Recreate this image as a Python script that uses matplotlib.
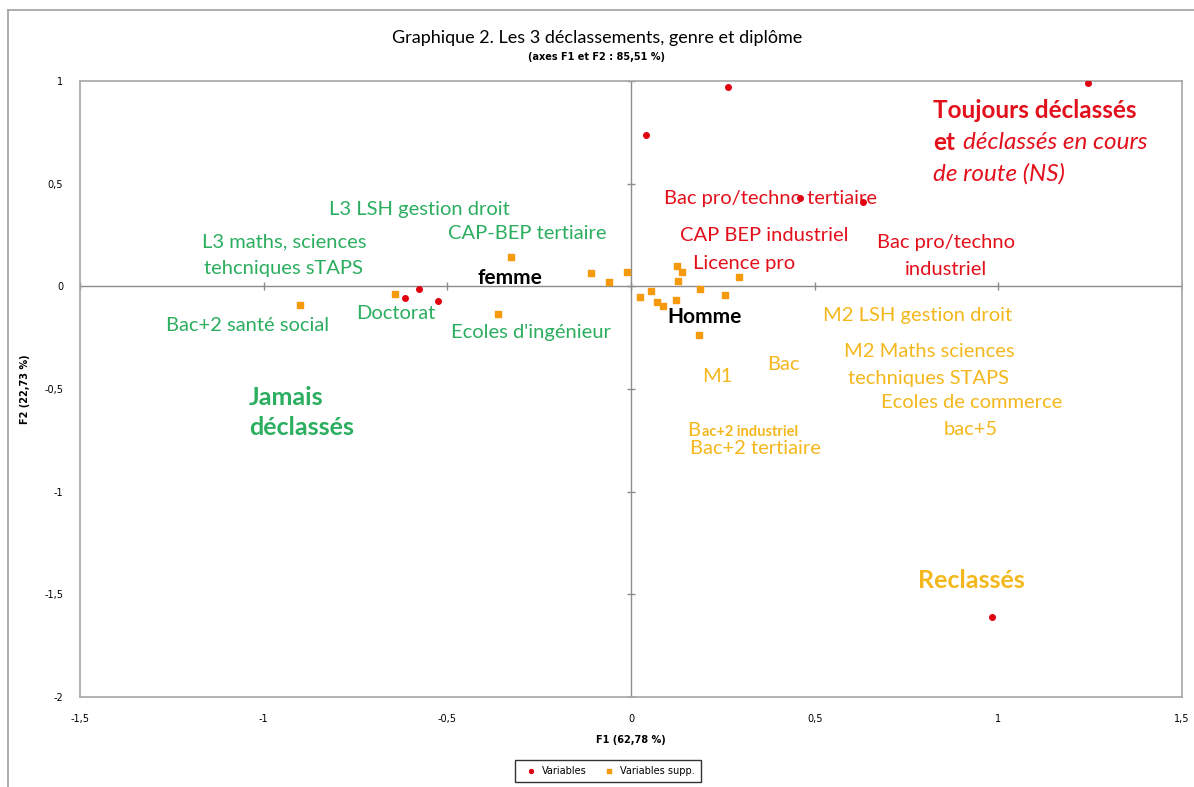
import matplotlib
matplotlib.use("Agg")
import matplotlib.pyplot as plt
from matplotlib.lines import Line2D
import numpy as np

# points of the graph (F1, F2)
var_x = [1.244, 0.263, 0.040, 0.461, 0.631, 0.983, -0.577, -0.615, -0.525]
var_y = [0.989, 0.971, 0.739, 0.430, 0.411, -1.612, -0.015, -0.058, -0.073]

supp_x = [-0.901, -0.643, -0.326, -0.361, -0.110, -0.059, -0.011, 0.024, 0.055,
          0.071, 0.088, 0.122, 0.124, 0.138, 0.127, 0.188, 0.186, 0.255, 0.293]
supp_y = [-0.089, -0.037, 0.145, -0.133, 0.067, 0.019, 0.071, -0.054, -0.024,
          -0.076, -0.096, -0.068, 0.101, 0.070, 0.028, -0.011, -0.235, -0.044, 0.045]

xticks = [-1.5, -1, -0.5, 0, 0.5, 1, 1.5]
yticks = [-2, -1.5, -1, -0.5, 0, 0.5, 1]

GREEN = "#2bae5f"
RED = "#e3101c"
ORANGE_TXT = "#f4b71c"
RED_PT = "#e00010"
ORANGE_PT = "#f59a0c"

# labels: (text, x, y)
green_labels = [
    ("L3 LSH gestion droit", -0.577, 0.375),
    ("CAP-BEP tertiaire", -0.283, 0.258),
    ("L3 maths, sciences\ntehcniques sTAPS", -0.945, 0.151),
    ("Bac+2 santé social", -1.043, -0.190),
    ("Doctorat", -0.640, -0.132),
    ("Ecoles d'ingénieur", -0.272, -0.224),
]
red_labels = [
    ("Bac pro/techno tertiaire", 0.381, 0.429),
    ("CAP BEP industriel", 0.362, 0.248),
    ("Bac pro/techno\nindustriel", 0.858, 0.146),
    ("Licence pro", 0.308, 0.112),
]
orange_labels = [
    ("M2 LSH gestion droit", 0.779, -0.141),
    ("M2 Maths sciences\ntechniques STAPS", 0.811, -0.385),
    ("Ecoles de commerce\nbac+5", 0.926, -0.633),
    ("Bac", 0.414, -0.380),
    ("M1", 0.234, -0.438),
    ("Bac+2 tertiaire", 0.340, -0.789),
]

plt.rcParams['font.family'] = ['Lato', 'DejaVu Sans']

fig = plt.figure(figsize=(11.94, 7.87), dpi=100)
ax = fig.add_axes([80/1194, 1-697/787, 1102/1194, 616/787])
ax.set_xlim(-1.5, 1.5)
ax.set_ylim(-2, 1)

for s in ax.spines.values():
    s.set_color("#a6a6a6")
    s.set_linewidth(1.2)

# zero axes with small tick marks
ax.axhline(0, color="#8c8c8c", lw=1, zorder=1)
ax.axvline(0, color="#8c8c8c", lw=1, zorder=1)
ax.plot(xticks, [0]*len(xticks), ls="none", marker="|", ms=6, color="#8c8c8c", mew=1)
ax.plot([0]*len(yticks), yticks, ls="none", marker="_", ms=6, color="#8c8c8c", mew=1)

ax.scatter(var_x, var_y, s=16, marker="o", color=RED_PT, zorder=3, label="Variables")
ax.scatter(supp_x, supp_y, s=22, marker="s", color=ORANGE_PT, zorder=3, label="Variables supp.")

ax.set_xticks(xticks)
ax.set_yticks(yticks)
fmt = lambda v: ("%g" % v).replace(".", ",")
ax.set_xticklabels([fmt(v) for v in xticks], family="DejaVu Sans", fontsize=7)
ax.set_yticklabels([fmt(v) for v in yticks], family="DejaVu Sans", fontsize=7)
ax.tick_params(length=0, pad=12)
ax.tick_params(axis="x", pad=12)
ax.set_xlabel("F1 (62,78 %)", fontsize=7, fontweight="bold", family="DejaVu Sans", labelpad=8)
ax.set_ylabel("F2 (22,73 %)", fontsize=7, fontweight="bold", family="DejaVu Sans", labelpad=10)

for txt, x, y in green_labels:
    ax.text(x, y, txt, color=GREEN, fontsize=14.5, ha="center", va="center", linespacing=1.7)
for txt, x, y in red_labels:
    ax.text(x, y, txt, color=RED, fontsize=14.5, ha="center", va="center", linespacing=1.7)
for txt, x, y in orange_labels:
    ax.text(x, y, txt, color=ORANGE_TXT, fontsize=14.5, ha="center", va="center", linespacing=1.7)

# odd mixed-size label
ax.text(0.154, -0.731, "B", color=ORANGE_TXT, fontsize=14.5, ha="left", va="baseline")
ax.text(0.192, -0.731, "ac+2 industriel", color=ORANGE_TXT, fontsize=10.5,
        fontweight="bold", ha="left", va="baseline")

ax.text(-0.329, 0.039, "femme", color="black", fontsize=15, fontweight="bold", ha="center", va="center")
ax.text(0.199, -0.151, "Homme", color="black", fontsize=15, fontweight="bold", ha="center", va="center")

ax.text(-1.040, -0.614, "Jamais\ndéclassés", color=GREEN, fontsize=18, fontweight="bold",
        ha="left", va="center", linespacing=1.35)
ax.text(0.926, -1.432, "Reclassés", color=ORANGE_TXT, fontsize=18, fontweight="bold",
        ha="center", va="center")

ax.text(0.822, 0.857, "Toujours déclassés", color=RED, fontsize=17.5, fontweight="bold",
        ha="left", va="center")
ax.text(0.822, 0.701, "et", color=RED, fontsize=17.5, fontweight="bold", ha="left", va="center")
ax.text(0.905, 0.701, "déclassés en cours", color=RED, fontsize=17.5, style="italic",
        ha="left", va="center")
ax.text(0.822, 0.550, "de route (NS)", color=RED, fontsize=17.5, style="italic",
        ha="left", va="center")

fig.text(0.5, 1-38/787, "Graphique 2. Les 3 déclassements, genre et diplôme",
         ha="center", va="center", fontsize=13)
fig.text(0.5, 1-57/787, "(axes F1 et F2 : 85,51 %)", ha="center", va="center",
         fontsize=7, fontweight="bold", family="DejaVu Sans")

leg = fig.legend(loc="center", bbox_to_anchor=(608/1194, 1-771/787), ncol=2,
                 frameon=True, fancybox=False, edgecolor="black",
                 handletextpad=0.2, columnspacing=1.2, markerscale=0.7,
                 borderpad=0.6, prop={"family": "DejaVu Sans", "size": 7})
leg.get_frame().set_linewidth(1)

# outer chart border (left and top)
fig.add_artist(Line2D([8/1194, 8/1194], [0, 1-10/787], color="#a0a0a0", lw=1.2))
fig.add_artist(Line2D([8/1194, 1], [1-10/787, 1-10/787], color="#a0a0a0", lw=1.2))

fig.savefig("out.png", dpi=100)
